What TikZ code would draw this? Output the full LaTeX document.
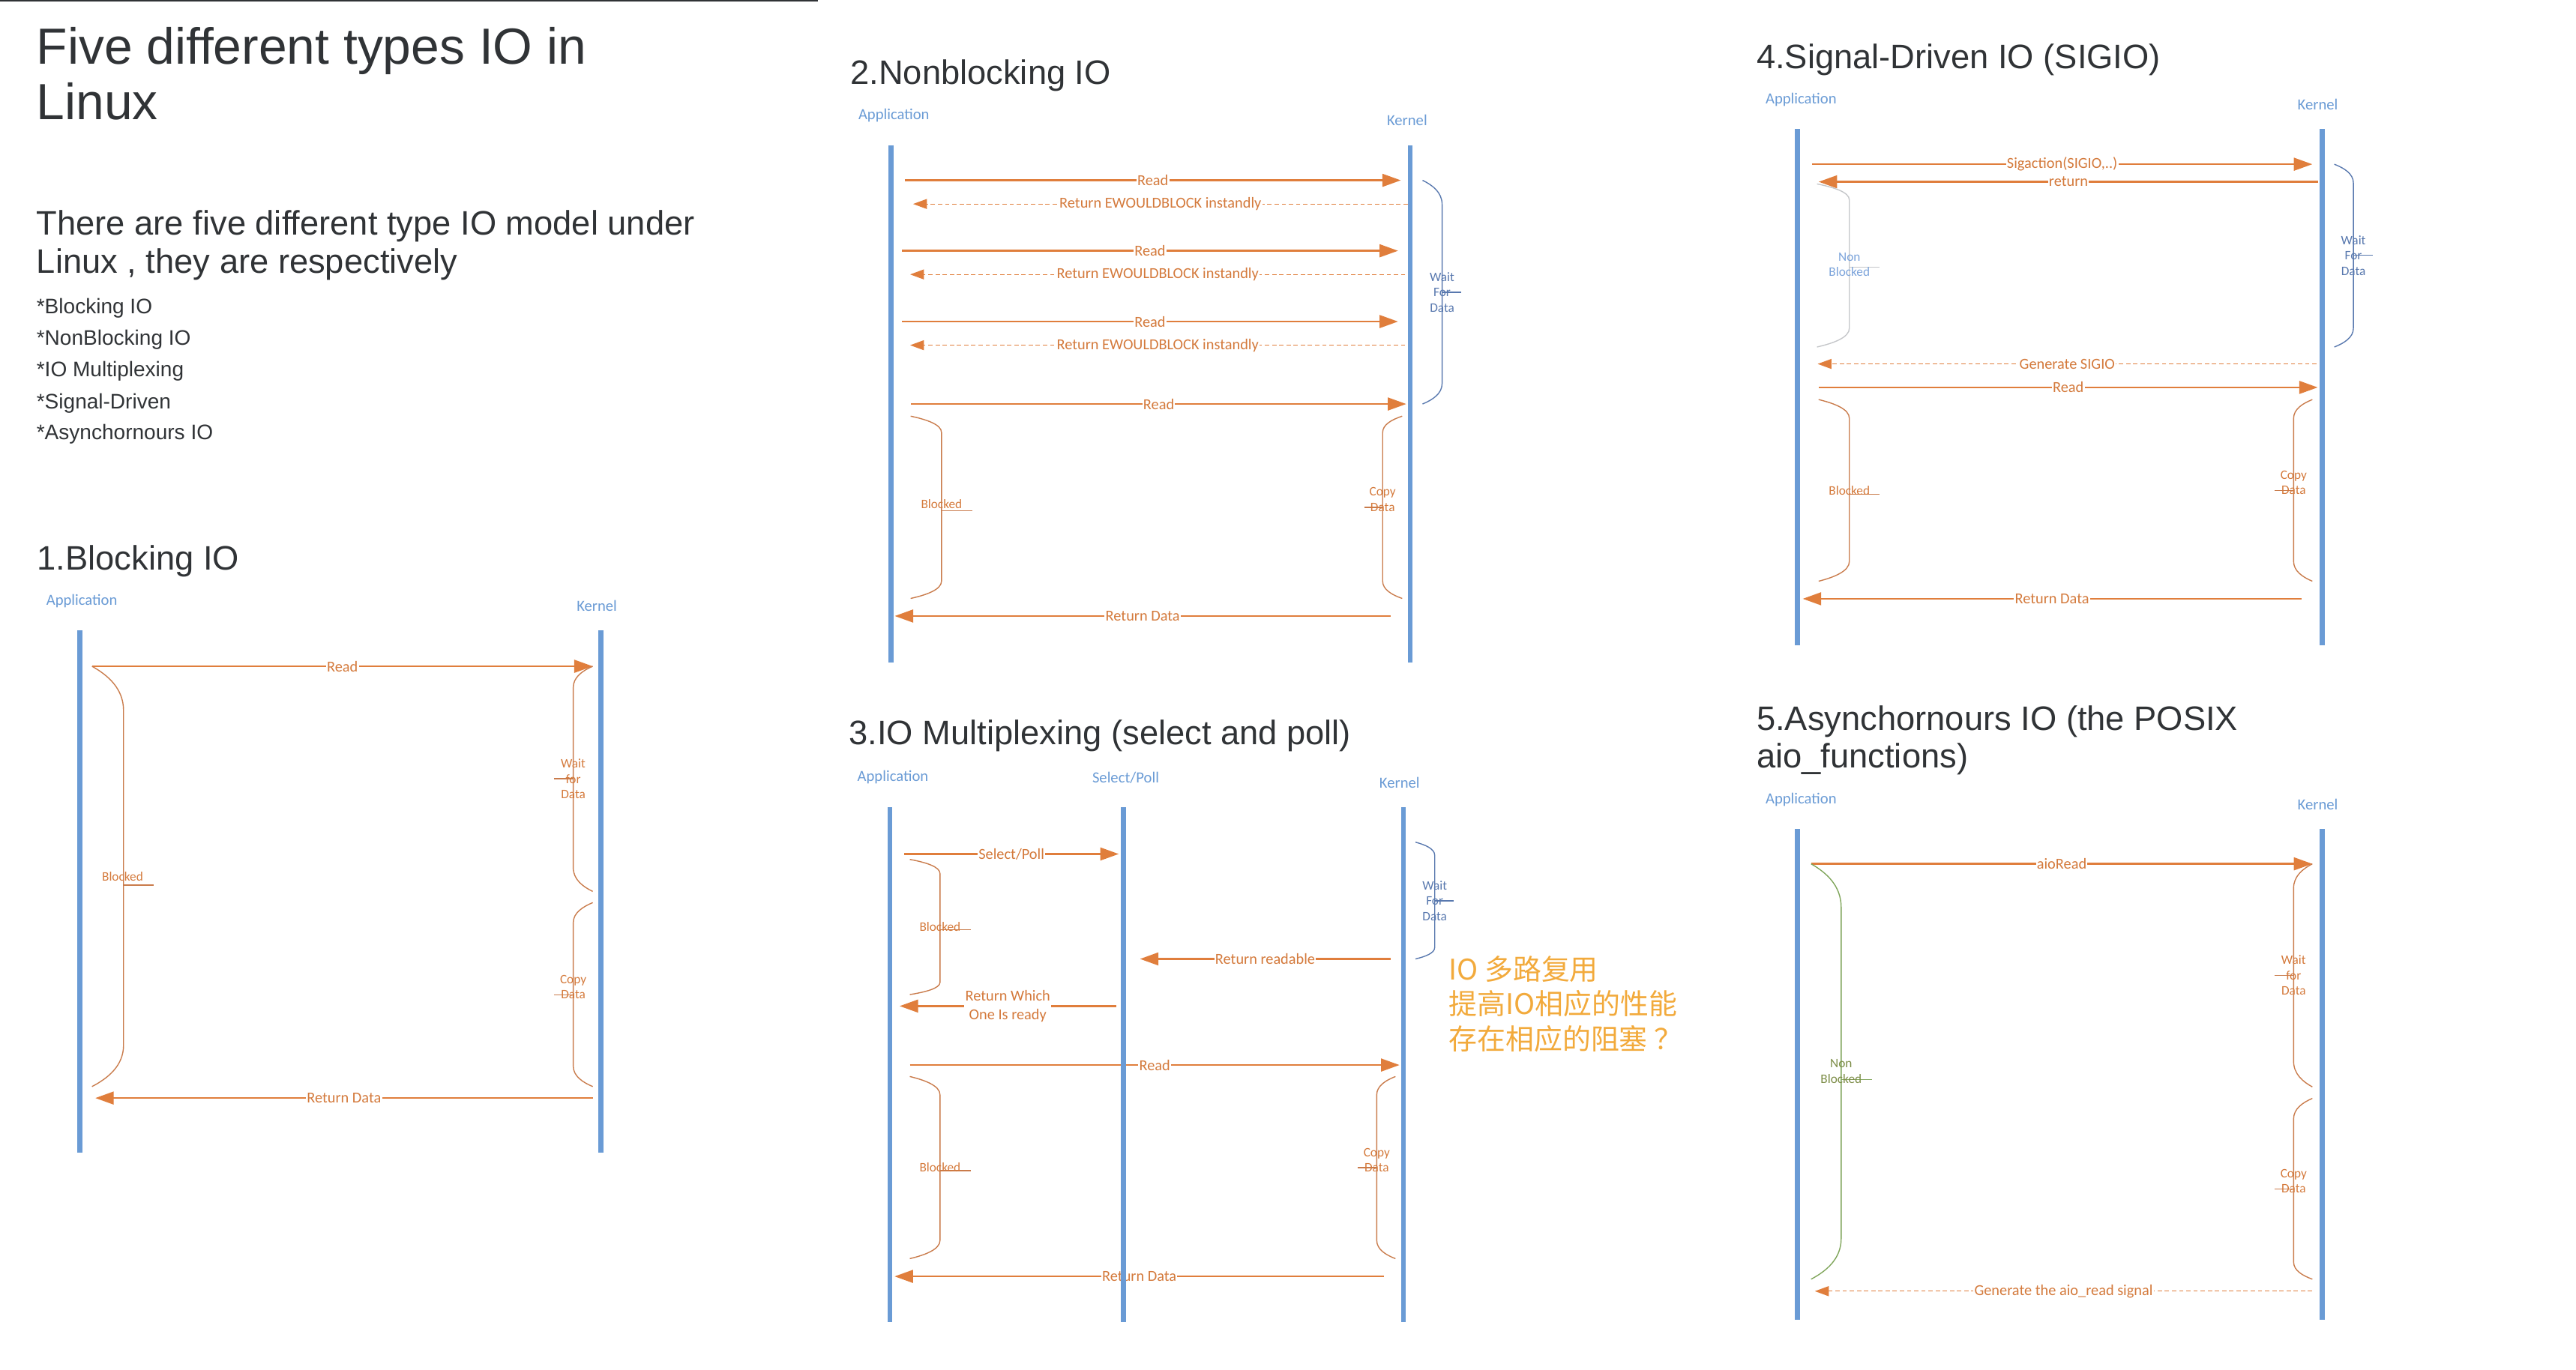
\documentclass[tikz,border=0pt]{standalone}
\usepackage{fontspec}
\setmainfont{Liberation Sans}
\newfontfamily\diagfont{Carlito}
\newfontfamily\cjkfont{Noto Sans CJK SC}
\usetikzlibrary{arrows.meta}

\definecolor{headgray}{HTML}{303336}
\definecolor{lifeblue}{HTML}{6A9BD5}
\definecolor{msgorange}{HTML}{E07E3C}
\definecolor{msgtext}{HTML}{D47A3C}
\definecolor{braceorange}{HTML}{C97B4B}
\definecolor{braceblue}{HTML}{5878AE}
\definecolor{bracegray}{HTML}{C4C6C9}
\definecolor{nonblue}{HTML}{7BA3DA}
\definecolor{bracegreen}{HTML}{7FA55A}
\definecolor{greentext}{HTML}{7C8C46}
\definecolor{notegold}{HTML}{F2AA3C}

\tikzset{
    main title/.style={font=\fontsize{22}{24}\selectfont, text=headgray, anchor=base west, inner sep=0pt},
    sub title/.style={font=\fontsize{14.7}{16.5}\selectfont, text=headgray, anchor=base west, inner sep=0pt},
    sec title/.style={sub title},
    bullet item/.style={font=\fontsize{9.1}{10}\selectfont, text=headgray, anchor=base west, inner sep=0pt},
    actor/.style={font=\diagfont\fontsize{6.7}{8}\selectfont, text=lifeblue, inner sep=0pt},
    lifeline/.style={draw=lifeblue, line width=2.2pt},
    msg/.style={draw=msgorange, line width=0.85pt, -{Triangle[length=8pt, width=5.5pt]}},
    msg back/.style={draw=msgorange, line width=0.4pt, dash pattern=on 1.9pt off 1.2pt,
        -{Triangle[length=6pt, width=4.3pt]}},
    msg label/.style={font=\diagfont\fontsize{6.6}{8.1}\selectfont, text=msgtext, fill=white,
        inner xsep=0.4pt, inner ysep=0.6pt, align=center},
    brace/.style={draw=braceorange, line width=0.45pt},
    brace blue/.style={draw=braceblue, line width=0.45pt},
    brace gray/.style={draw=bracegray, line width=0.45pt},
    brace green/.style={draw=bracegreen, line width=0.45pt},
    brace label/.style={font=\diagfont\fontsize{5.6}{6.6}\selectfont, text=msgtext, align=center, inner sep=0pt},
    brace label blue/.style={brace label, text=braceblue},
    brace label non/.style={brace label, text=nonblue},
    brace label green/.style={brace label, text=greentext},
    note cjk/.style={font=\cjkfont\fontsize{12.3}{15.2}\selectfont, text=notegold, align=left, anchor=west, inner sep=0pt}
}

\begin{document}
\begin{tikzpicture}[x=0.025cm, y=-0.025cm]
\useasboundingbox (0,0) rectangle (1568,834);

% Heading and list
\draw[headgray, line width=0.6pt] (0,0.6) -- (498,0.6);
\node[main title] (ttl1) at (22,39) {Five different types IO in};
\node[main title] (ttl2) at (22,73) {Linux};
\node[sub title] (sub1) at (22,143.2) {There are five different type IO model under};
\node[sub title] (sub2) at (22,166.4) {Linux , they are respectively};
\node[bullet item] (bul1) at (22,191.1) {*Blocking IO};
\node[bullet item] (bul2) at (22,210.3) {*NonBlocking IO};
\node[bullet item] (bul3) at (22,229.4) {*IO Multiplexing};
\node[bullet item] (bul4) at (22,248.8) {*Signal-Driven};
\node[bullet item] (bul5) at (22,267.5) {*Asynchornours IO};

% 1.Blocking IO
\node[sec title] (ttl3) at (22.4,347.1) {1.Blocking IO};
\node[actor] (app1) at (49.8,366) {Application};
\node[actor] (ker1) at (363.3,369) {Kernel};
\coordinate (a1rd) at (56,405.7);
\coordinate (k1rd) at (360.8,405.7);
\coordinate (k1rt) at (360.8,668.6);
\coordinate (a1rt) at (58,668.6);
\draw[msg] (a1rd) -- (k1rd) node[msg label, midway] (m1a) {Read};
\draw[msg] (k1rt) -- (a1rt) node[msg label, midway] (m1b) {Return Data};
\draw[brace] (a1rd) .. controls +(9.6,5.4) and +(0,-13.5) .. (75.2,432.7) -- (75.2,636.4) .. controls +(0,12.6) and +(9.6,-5) .. (56,661.6);
\draw[brace] (75.2,539) -- (93.6,539);
\node[brace label] (b1a) at (74.6,533.5) {Blocked};
\draw[brace] (k1rd) .. controls +(-6,2.6) and +(0,-6.6) .. (348.9,418.8) -- (348.9,528.2) .. controls +(0,7.3) and +(-6,-2.9) .. (360.8,542.8);
\draw[brace] (337.2,474.2) -- (348.9,474.2);
\node[brace label] (b1b) at (348.9,474.2) {Wait\\for\\Data};
\draw[brace] (360.8,549.6) .. controls +(-6,2.5) and +(0,-6.2) .. (348.9,562) -- (348.9,649) .. controls +(0,6.3) and +(-6,-2.5) .. (360.8,661.6);
\draw[brace] (337.2,605.7) -- (348.9,605.7);
\node[brace label] (b1c) at (348.9,601.1) {Copy\\Data};
\draw[lifeline] (48.5,384) -- (48.5,702);
\draw[lifeline] (365.8,384) -- (365.8,702);

% 2.Nonblocking IO
\node[sec title] (ttl4) at (517.4,51.3) {2.Nonblocking IO};
\node[actor] (app2) at (544.1,70.4) {Application};
\node[actor] (ker2) at (856.5,73.4) {Kernel};
\coordinate (a2r1) at (550.8,109.8);
\coordinate (k2r1) at (852.7,109.8);
\coordinate (k2e1) at (856.9,124.2);
\coordinate (a2e1) at (555.8,124.2);
\coordinate (a2r2) at (549,152.7);
\coordinate (k2r2) at (851,152.7);
\coordinate (k2e2) at (855.4,167.1);
\coordinate (a2e2) at (554,167.1);
\coordinate (a2r3) at (549,195.8);
\coordinate (k2r3) at (851,195.8);
\coordinate (k2e3) at (855.4,210.2);
\coordinate (a2e3) at (554,210.2);
\coordinate (a2r4) at (554.6,246);
\coordinate (k2r4) at (856,246);
\coordinate (k2rt) at (846.5,375.1);
\coordinate (a2rt) at (544.6,375.1);
\draw[msg] (a2r1) -- (k2r1) node[msg label, midway] (m2a) {Read};
\draw[msg back] (k2e1) -- (a2e1) node[msg label, midway] (m2b) {Return EWOULDBLOCK instandly};
\draw[msg] (a2r2) -- (k2r2) node[msg label, midway] (m2c) {Read};
\draw[msg back] (k2e2) -- (a2e2) node[msg label, midway] (m2d) {Return EWOULDBLOCK instandly};
\draw[msg] (a2r3) -- (k2r3) node[msg label, midway] (m2e) {Read};
\draw[msg back] (k2e3) -- (a2e3) node[msg label, midway] (m2f) {Return EWOULDBLOCK instandly};
\draw[msg] (a2r4) -- (k2r4) node[msg label, midway] (m2g) {Read};
\draw[msg] (k2rt) -- (a2rt) node[msg label, midway] (m2h) {Return Data};
\draw[brace blue] (865.9,109.8) .. controls +(6,2.9) and +(0,-7.4) .. (877.8,124.5) -- (877.8,233.5) .. controls +(0,6.3) and +(6,-2.5) .. (865.9,246);
\draw[brace blue] (877.8,178) -- (889.2,178);
\node[brace label blue] (b2a) at (877.8,178) {Wait\\For\\Data};
\draw[brace] (554.3,253.4) .. controls +(9.4,2) and +(0,-5) .. (573.1,263.4) -- (573.1,353.8) .. controls +(0,5.3) and +(9.4,-2.1) .. (554.3,364.4);
\draw[brace] (573.1,310.9) -- (591.7,310.9);
\node[brace label] (b2b) at (573.1,307) {Blocked};
\draw[brace] (853.5,253.4) .. controls +(-6,2) and +(0,-5) .. (841.6,263.4) -- (841.6,353.8) .. controls +(0,5.3) and +(-6,-2.1) .. (853.5,364.4);
\draw[brace] (830.4,308.9) -- (841.6,308.9);
\node[brace label] (b2c) at (841.6,304.2) {Copy\\Data};
\draw[lifeline] (542.4,88.5) -- (542.4,403.3);
\draw[lifeline] (858.4,88.5) -- (858.4,403.3);

% 3.IO Multiplexing
\node[sec title] (ttl5) at (516.5,453.5) {3.IO Multiplexing (select and poll)};
\node[actor] (app3) at (543.5,473.4) {Application};
\node[actor] (sel3) at (685.2,473.4) {Select/Poll};
\node[actor] (ker3) at (851.9,476.4) {Kernel};
\coordinate (a3sp) at (550.4,520);
\coordinate (s3sp) at (681,520);
\coordinate (k3rr) at (846.3,583.9);
\coordinate (s3rr) at (693.9,583.9);
\coordinate (s3rw) at (679.3,612.6);
\coordinate (a3rw) at (547.6,612.6);
\coordinate (a3rd) at (553.8,648.5);
\coordinate (k3rd) at (851.9,648.5);
\coordinate (k3rt) at (842.5,777.2);
\coordinate (a3rt) at (544.5,777.2);
\draw[msg] (a3sp) -- (s3sp) node[msg label, midway] (m3a) {Select/Poll};
\draw[msg] (k3rr) -- (s3rr) node[msg label, midway] (m3b) {Return readable};
\draw[msg] (s3rw) -- (a3rw) node[msg label, midway] (m3c) {Return Which\\One Is ready};
\draw[msg] (a3rd) -- (k3rd) node[msg label, midway] (m3d) {Read};
\draw[msg] (k3rt) -- (a3rt) node[msg label, midway] (m3e) {Return Data};
\draw[brace] (553.8,523.3) .. controls +(9.2,1.7) and +(0,-4.4) .. (572.2,532) -- (572.2,598.1) .. controls +(0,3.8) and +(9.2,-1.5) .. (553.8,605.6);
\draw[brace] (572.2,566.2) -- (590.8,566.2);
\node[brace label] (b3a) at (572.2,564.5) {Blocked};
\draw[brace blue] (861.6,512.8) .. controls +(5.9,1.6) and +(0,-4) .. (873.3,520.8) -- (873.3,576.9) .. controls +(0,3.5) and +(5.9,-1.4) .. (861.6,583.9);
\draw[brace blue] (873.3,548.5) -- (885,548.5);
\node[brace label blue] (b3b) at (873.3,548.5) {Wait\\For\\Data};
\draw[brace] (553.8,655.5) .. controls +(9.2,2.2) and +(0,-5.6) .. (572.2,666.7) -- (572.2,755.2) .. controls +(0,5.6) and +(9.2,-2.2) .. (553.8,766.4);
\draw[brace] (572.2,712.8) -- (590.8,712.8);
\node[brace label] (b3c) at (572.2,711) {Blocked};
\draw[brace] (849.4,655.5) .. controls +(-5.7,2.2) and +(0,-5.6) .. (838,666.7) -- (838,755.2) .. controls +(0,5.6) and +(-5.7,-2.2) .. (849.4,766.4);
\draw[brace] (826.3,711) -- (838,711);
\node[brace label] (b3d) at (838,706.3) {Copy\\Data};
\draw[lifeline] (541.7,491.6) -- (541.7,805);
\draw[lifeline] (683.9,491.6) -- (683.9,805);
\draw[lifeline] (854.3,491.6) -- (854.3,805);
\node[note cjk] (cn3) at (881.6,611.3) {IO 多路复用\\提高IO相应的性能\\存在相应的阻塞 ？};

% 4.Signal-Driven IO
\node[sec title] (ttl6) at (1069,41.6) {4.Signal-Driven IO (SIGIO)};
\node[actor] (app4) at (1096.3,60.8) {Application};
\node[actor] (ker4) at (1410.8,63.7) {Kernel};
\coordinate (a4sg) at (1103,100);
\coordinate (k4sg) at (1407.5,100);
\coordinate (k4rn) at (1411.1,110.7);
\coordinate (a4rn) at (1107,110.7);
\coordinate (k4gs) at (1410.1,221.6);
\coordinate (a4gs) at (1106.4,221.6);
\coordinate (a4rd) at (1107,235.9);
\coordinate (k4rd) at (1410.8,235.9);
\coordinate (k4rt) at (1400.8,364.6);
\coordinate (a4rt) at (1097.3,364.6);
\draw[msg] (a4sg) -- (k4sg) node[msg label, midway] (m4a) {Sigaction(SIGIO,..)};
\draw[msg] (k4rn) -- (a4rn) node[msg label, midway] (m4b) {return};
\draw[msg back] (k4gs) -- (a4gs) node[msg label, midway] (m4c) {Generate SIGIO};
\draw[msg] (a4rd) -- (k4rd) node[msg label, midway] (m4d) {Read};
\draw[msg] (k4rt) -- (a4rt) node[msg label, midway] (m4e) {Return Data};
\draw[brace gray] (1106,112) .. controls +(9.9,2) and +(0,-4.9) .. (1125.7,121.8) -- (1125.7,199.8) .. controls +(0,5.8) and +(9.9,-2.3) .. (1106,211.3);
\draw[brace gray] (1125.7,162.8) -- (1144.1,162.8);
\node[brace label non] (b4a) at (1125.7,161.1) {Non\\Blocked};
\draw[brace blue] (1420.9,100) .. controls +(5.8,2.3) and +(0,-5.8) .. (1432.5,111.5) -- (1432.5,199.8) .. controls +(0,5.8) and +(5.8,-2.3) .. (1420.9,211.3);
\draw[brace blue] (1432.5,155.5) -- (1444.2,155.5);
\node[brace label blue] (b4b) at (1432.5,155.6) {Wait\\For\\Data};
\draw[brace] (1107,243.3) .. controls +(9.4,2.3) and +(0,-5.8) .. (1125.7,254.8) -- (1125.7,341.8) .. controls +(0,6) and +(9.4,-2.4) .. (1107,353.9);
\draw[brace] (1125.7,300.9) -- (1144.1,300.9);
\node[brace label] (b4c) at (1125.7,298.6) {Blocked};
\draw[brace] (1407.5,243.3) .. controls +(-5.7,2.3) and +(0,-5.8) .. (1396.1,254.8) -- (1396.1,341.8) .. controls +(0,6) and +(-5.7,-2.4) .. (1407.5,353.9);
\draw[brace] (1384.4,298.6) -- (1396.1,298.6);
\node[brace label] (b4d) at (1396.1,293.9) {Copy\\Data};
\draw[lifeline] (1094,78.7) -- (1094,393);
\draw[lifeline] (1413.5,78.7) -- (1413.5,393);

% 5.Asynchornours IO
\node[sec title] (ttl7) at (1069,444.5) {5.Asynchornours IO (the POSIX};
\node[sec title] (ttl8) at (1069,467.4) {aio\_functions)};
\node[actor] (app5) at (1096.3,486.9) {Application};
\node[actor] (ker5) at (1410.8,489.8) {Kernel};
\coordinate (a5ar) at (1102.4,526);
\coordinate (k5ar) at (1407.5,526);
\coordinate (k5gs) at (1407.5,786.2);
\coordinate (a5gs) at (1104.7,786.2);
\draw[msg] (a5ar) -- (k5ar) node[msg label, midway] (m5a) {aioRead};
\draw[msg back] (k5gs) -- (a5gs) node[msg label, midway] (m5b) {Generate the aio\_read signal};
\draw[brace green] (a5ar) .. controls +(9.2,5.3) and +(0,-13.3) .. (1120.7,552.5) -- (1120.7,754.2) .. controls +(0,12.4) and +(9.2,-4.9) .. (1102.4,778.9);
\draw[brace green] (1120.7,657.4) -- (1139.7,657.4);
\node[brace label green] (b5a) at (1120.7,652.4) {Non\\Blocked};
\draw[brace] (k5ar) .. controls +(-5.7,3) and +(0,-7.4) .. (1396.1,540.8) -- (1396.1,646.2) .. controls +(0,7.8) and +(-5.7,-3.1) .. (1407.5,661.8);
\draw[brace] (1384.4,593.9) -- (1396.1,593.9);
\node[brace label] (b5b) at (1396.1,593.8) {Wait\\for\\Data};
\draw[brace] (1407.5,668.8) .. controls +(-5.7,2.5) and +(0,-6.3) .. (1396.1,681.3) -- (1396.1,768.4) .. controls +(0,5.3) and +(-5.7,-2.1) .. (1407.5,778.9);
\draw[brace] (1384.4,724) -- (1396.1,724);
\node[brace label] (b5c) at (1396.1,719.3) {Copy\\Data};
\draw[lifeline] (1094,504.9) -- (1094,803.6);
\draw[lifeline] (1413.5,504.9) -- (1413.5,803.6);
\end{tikzpicture}
\end{document}
